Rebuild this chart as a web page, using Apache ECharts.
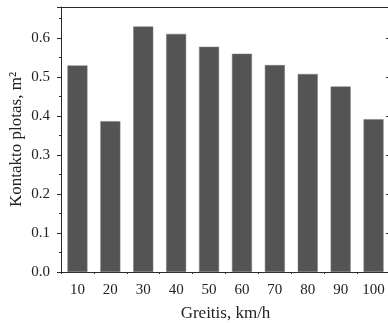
<!DOCTYPE html>
<html>
<head>
<meta charset="utf-8">
<script src="https://cdn.jsdelivr.net/npm/echarts@6/dist/echarts.min.js"></script>
<style>
  html, body { margin: 0; padding: 0; background: #fff; }
  #chart { width: 388px; height: 323px; }
</style>
</head>
<body>
<div id="chart"></div>
<script>
// speed categories and contact area values
const speeds = ['10', '20', '30', '40', '50', '60', '70', '80', '90', '100'];
const contactArea = [0.53, 0.387, 0.63, 0.611, 0.578, 0.56, 0.531, 0.508, 0.476, 0.392];
const yTicks = { min: 0, max: 0.68, interval: 0.1 };

const font = 'Liberation Serif';
const lineColor = '#2a2a2a';
const textColor = '#222';

const chart = echarts.init(document.getElementById('chart'));

const frameLine = { show: true, lineStyle: { color: lineColor, width: 1 } };

chart.setOption({
  animation: false,
  grid: { left: 61, right: -2, top: 7, bottom: 51, outerBoundsMode: 'none' },
  xAxis: [
    {
      type: 'category',
      data: speeds,
      position: 'bottom',
      name: 'Greitis, km/h',
      nameLocation: 'middle',
      nameGap: 33,
      nameTextStyle: { fontFamily: font, fontSize: 17, color: textColor },
      axisLine: frameLine,
      axisTick: { alignWithLabel: true, inside: false, length: 4, lineStyle: { color: lineColor } },
      axisLabel: { interval: 0, margin: 11, fontFamily: font, fontSize: 15, color: textColor },
      splitLine: { show: false }
    },
    {
      // minor ticks between the bars
      type: 'value',
      position: 'bottom',
      min: 0,
      max: 10,
      interval: 1,
      axisLine: { show: false },
      axisTick: { show: true, length: 2, lineStyle: { color: lineColor } },
      axisLabel: { show: false },
      splitLine: { show: false }
    },
    {
      type: 'category',
      data: speeds,
      position: 'top',
      axisLine: frameLine,
      axisTick: { alignWithLabel: true, inside: true, length: 4, lineStyle: { color: lineColor } },
      axisLabel: { show: false },
      splitLine: { show: false }
    }
  ],
  yAxis: [
    {
      type: 'value',
      min: yTicks.min,
      max: yTicks.max,
      interval: yTicks.interval,
      name: 'Kontakto plotas, m²',
      nameLocation: 'middle',
      nameGap: 36,
      nameMoveOverlap: false,
      nameTextStyle: { fontFamily: font, fontSize: 17, color: textColor },
      axisLine: frameLine,
      axisTick: { show: true, length: 4, lineStyle: { color: lineColor } },
      minorTick: { show: true, splitNumber: 2, length: 2, lineStyle: { color: lineColor } },
      axisLabel: {
        showMaxLabel: false,
        margin: 11,
        fontFamily: font,
        fontSize: 15,
        color: textColor,
        formatter: (v) => v.toFixed(1)
      },
      splitLine: { show: false }
    },
    {
      type: 'value',
      position: 'right',
      min: yTicks.min,
      max: yTicks.max,
      interval: yTicks.interval,
      axisLine: frameLine,
      axisTick: { show: true, inside: true, length: 4, lineStyle: { color: lineColor } },
      axisLabel: { show: false },
      splitLine: { show: false }
    }
  ],
  series: [
    {
      type: 'bar',
      data: contactArea,
      xAxisIndex: 0,
      yAxisIndex: 0,
      barWidth: 20,
      itemStyle: { color: '#545454', borderColor: '#7a7a7a', borderWidth: 0.5 }
    }
  ]
});
</script>
</body>
</html>
